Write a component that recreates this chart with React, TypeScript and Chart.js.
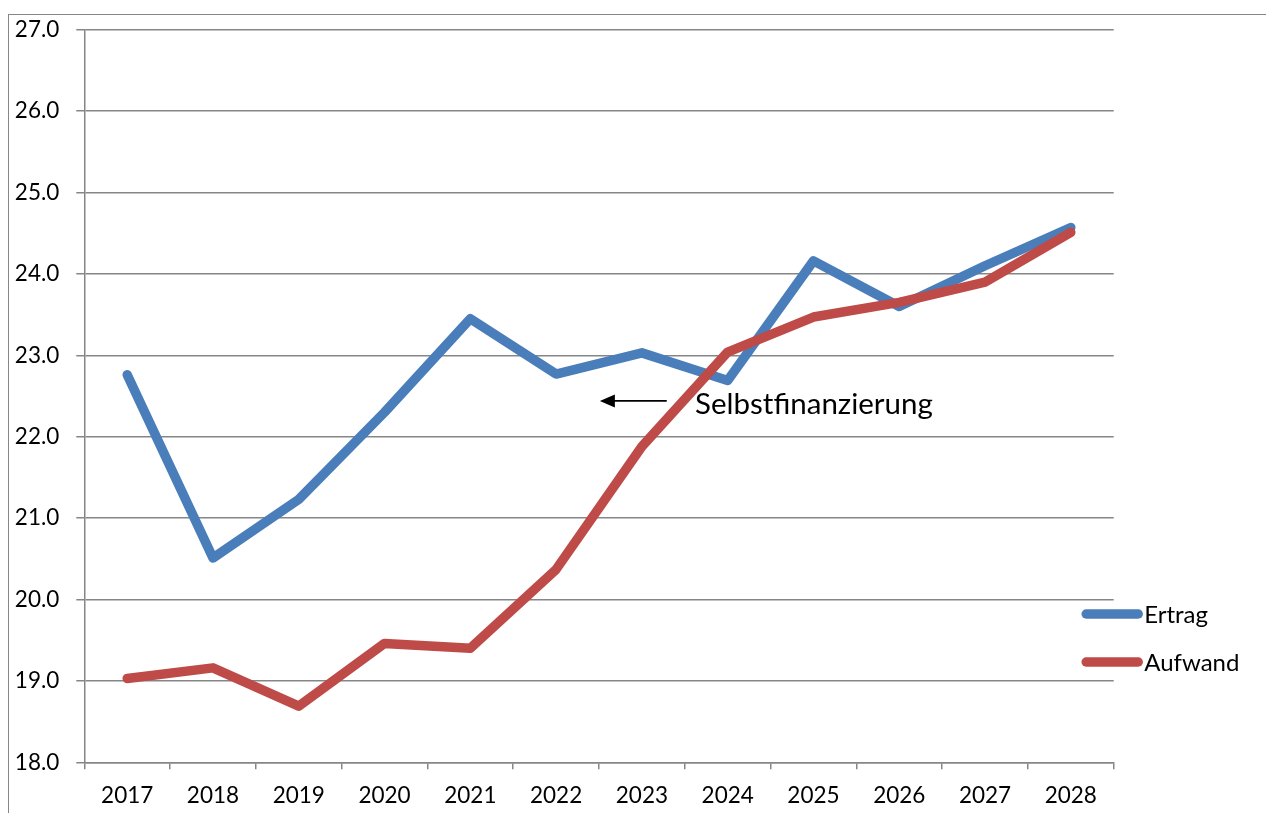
import React, { useEffect, useRef } from "react";
import { Chart, registerables } from "chart.js";

Chart.register(...registerables);

const years = ["2017", "2018", "2019", "2020", "2021", "2022", "2023", "2024", "2025", "2026", "2027", "2028"];
const ertrag = [22.76, 20.51, 21.23, 22.3, 23.45, 22.77, 23.03, 22.69, 24.16, 23.6, 24.1, 24.57];
const aufwand = [19.03, 19.16, 18.69, 19.46, 19.4, 20.37, 21.88, 23.04, 23.47, 23.65, 23.9, 24.51];
const seriesNames = ["Ertrag", "Aufwand"];
const seriesColors = ["#4A7EBB", "#BE4B48"];
const yMin = 18;
const yMax = 27;
const yStep = 1;

const annotationText = "Selbstfinanzierung";
const arrowTip = { x: 5.51, y: 22.44 };
const arrowTail = { x: 6.29, y: 22.44 };
const annotationLabel = { x: 6.62, y: 22.28 };

const FONT = "Lato, 'Noto Sans', sans-serif";

const extrasPlugin = {
  id: "extras",
  afterDraw(chart: any) {
    const { ctx, chartArea, scales } = chart;
    const xs = scales.x;
    const ys = scales.y;
    ctx.save();
    // arrow
    const tx = xs.getPixelForValue(arrowTip.x);
    const ty = ys.getPixelForValue(arrowTip.y);
    const sx = xs.getPixelForValue(arrowTail.x);
    const sy = ys.getPixelForValue(arrowTail.y);
    ctx.strokeStyle = "#000";
    ctx.fillStyle = "#000";
    ctx.lineWidth = 1.6;
    ctx.beginPath();
    ctx.moveTo(sx, sy);
    ctx.lineTo(tx + 12, ty);
    ctx.stroke();
    ctx.beginPath();
    ctx.moveTo(tx, ty);
    ctx.lineTo(tx + 15, ty - 6.5);
    ctx.lineTo(tx + 15, ty + 6.5);
    ctx.closePath();
    ctx.fill();
    // label
    ctx.font = `29.5px ${FONT}`;
    ctx.textAlign = "left";
    ctx.textBaseline = "alphabetic";
    ctx.fillText(annotationText, xs.getPixelForValue(annotationLabel.x), ys.getPixelForValue(annotationLabel.y));

    // legend
    const lx0 = chartArea.right - 31.5;
    const lx1 = chartArea.right + 28.5;
    const rows = [chartArea.bottom - 148.3, chartArea.bottom - 100.3];
    chart.data.datasets.forEach((ds: any, i: number) => {
      const y = rows[i];
      ctx.strokeStyle = ds.borderColor;
      ctx.lineWidth = 9.5;
      ctx.lineCap = "round";
      ctx.beginPath();
      ctx.moveTo(lx0 + 4, y);
      ctx.lineTo(lx1 - 4, y);
      ctx.stroke();
      ctx.fillStyle = "#000";
      ctx.font = `24px ${FONT}`;
      ctx.textBaseline = "middle";
      ctx.textAlign = "left";
      ctx.fillText(ds.label, lx1 + 2, y + 1);
    });
    ctx.restore();
  },
};

export default function App() {
  const ref = useRef<HTMLCanvasElement | null>(null);
  useEffect(() => {
    if (!ref.current) return;
    const chart = new Chart(ref.current, {
      type: "line",
      data: {
        labels: years,
        datasets: [
          {
            label: seriesNames[0],
            data: ertrag,
            borderColor: seriesColors[0],
            backgroundColor: seriesColors[0],
            borderWidth: 9.5,
            borderCapStyle: "round",
            borderJoinStyle: "round",
            pointRadius: 0,
            tension: 0,
            order: 1,
          },
          {
            label: seriesNames[1],
            data: aufwand,
            borderColor: seriesColors[1],
            backgroundColor: seriesColors[1],
            borderWidth: 9.5,
            borderCapStyle: "round",
            borderJoinStyle: "round",
            pointRadius: 0,
            tension: 0,
            order: 0,
          },
        ],
      },
      options: {
        animation: false,
        responsive: false,
        maintainAspectRatio: false,
        layout: { padding: { top: 14.7, right: 152.3, left: 0, bottom: 0 } },
        plugins: {
          legend: { display: false },
          tooltip: { enabled: false },
        },
        scales: {
          x: {
            type: "category",
            offset: true,
            grid: {
              display: true,
              drawOnChartArea: false,
              drawTicks: true,
              tickLength: 7,
              offset: true,
              color: "#868686",
              lineWidth: 1.5,
            },
            border: { display: true, color: "#868686", width: 1.5 },
            ticks: {
              color: "#000",
              font: { family: FONT, size: 22.5 },
              padding: 13,
              maxRotation: 0,
              autoSkip: false,
            },
            afterFit: (axis: any) => {
              axis.height = 50.7;
              axis.paddingLeft = 0;
              axis.paddingRight = 0;
            },
          },
          y: {
            min: yMin,
            max: yMax,
            grid: {
              color: "#868686",
              lineWidth: 1.5,
              drawTicks: true,
              tickLength: 8,
            },
            border: { display: true, color: "#868686", width: 1.5 },
            ticks: {
              stepSize: yStep,
              color: "#000",
              font: { family: FONT, size: 22.5 },
              padding: 17,
              callback: (v: any) => Number(v).toFixed(1),
            },
            afterFit: (axis: any) => {
              axis.width = 75.3;
              axis.paddingTop = 0;
              axis.paddingBottom = 0;
            },
          },
        },
      },
      plugins: [extrasPlugin],
    });
    return () => chart.destroy();
  }, []);

  return (
    <div
      style={{
        position: "fixed",
        left: 8,
        top: 14,
        width: 1300,
        height: 900,
        borderTop: "1px solid #868686",
        borderLeft: "1px solid #868686",
        background: "#fff",
      }}
    >
      <canvas ref={ref} width={1257} height={798} style={{ display: "block" }} />
    </div>
  );
}
